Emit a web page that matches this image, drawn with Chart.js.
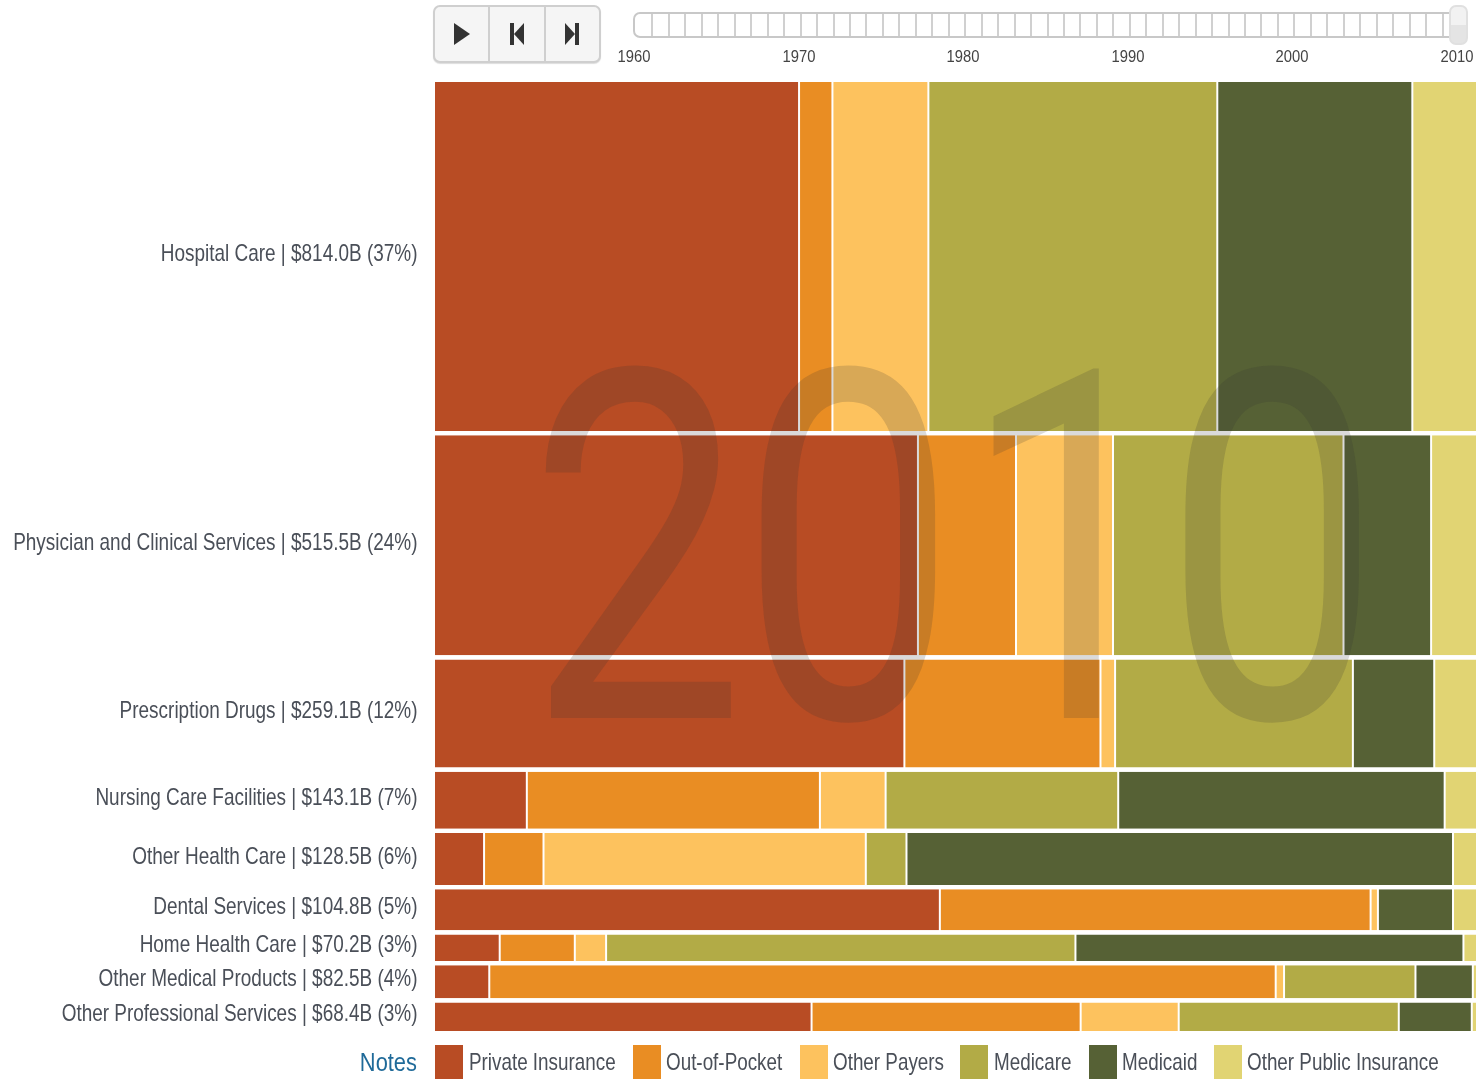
<!DOCTYPE html>
<html>
<head>
<meta charset="utf-8">
<script src="https://cdn.jsdelivr.net/npm/chart.js@4/dist/chart.umd.js"></script>
<style>
html,body{margin:0;padding:0;background:#fff;width:1476px;height:1079px;overflow:hidden;font-family:"Liberation Sans",sans-serif;color:#4a4f58}
#chart{position:absolute;left:0;top:0}
.buttons{position:absolute;left:433px;top:5px;width:164px;height:54px;border:2px solid #cfcfcf;border-radius:7px;background:#f5f5f5;display:flex;box-shadow:0 1px 1px #ddd}
.buttons div{flex:1;display:flex;align-items:center;justify-content:center;border-right:2px solid #cfcfcf}
.buttons div:last-child{border-right:none}
.slider{position:absolute;left:633px;top:12px;width:827px;height:22px;border:2px solid #c8c8c8;border-radius:7px;background:#fff}
.slider i{position:absolute;top:0;bottom:0;width:2px;background:#d0d0d0}
.thumb{position:absolute;left:1449px;top:5px;width:15px;height:36px;border:2px solid #e0e0e0;border-radius:7px;background:linear-gradient(#f2f2f2 50%,#e4e4e4 50%)}
.year{position:absolute;top:47px;width:60px;margin-left:-30px;text-align:center;font:17px/20px "Liberation Sans";color:#444;transform:scaleX(.87)}
.wm{position:absolute;left:527.5px;top:306px;font:489px/1 Roboto;letter-spacing:-6.6px;color:rgba(50,50,50,.18);transform:scaleX(.79);transform-origin:0 0;pointer-events:none;white-space:nowrap}
.wm span{position:relative;left:12px}
.notes{position:absolute;right:1059px;top:1046px;font:26px/32px "Liberation Sans";color:#1f6a99;transform:scaleX(.84);transform-origin:100% 0}
.sw{position:absolute;top:1045px;width:28px;height:34px}
.lt{position:absolute;top:1045px;font:24px/34px "Liberation Sans";color:#4a4f58;transform:scaleX(.785);transform-origin:0 0;white-space:nowrap}
</style>
</head>
<body>
<canvas id="chart" width="1477" height="1079"></canvas>
<div class="buttons">
  <div><svg width="16" height="22"><polygon points="0,0 16,11 0,22" fill="#333"/></svg></div>
  <div><svg width="14" height="22"><rect width="4" height="22" fill="#333"/><polygon points="14,0 14,22 4,11" fill="#333"/></svg></div>
  <div><svg width="14" height="22"><rect x="10" width="4" height="22" fill="#333"/><polygon points="0,0 0,22 10,11" fill="#333"/></svg></div>
</div>
<div class="slider" id="slider"></div>
<div class="thumb"></div>
<div id="years"></div>
<div class="wm">20<span>1</span>0</div>
<div class="notes">Notes</div>
<div id="legend"></div>
<script>
const rowLabels = ["Hospital Care | $814.0B (37%)","Physician and Clinical Services | $515.5B (24%)","Prescription Drugs | $259.1B (12%)","Nursing Care Facilities | $143.1B (7%)","Other Health Care | $128.5B (6%)","Dental Services | $104.8B (5%)","Home Health Care | $70.2B (3%)","Other Medical Products | $82.5B (4%)","Other Professional Services | $68.4B (3%)"];
const rowWeights = [349,220,108,57,52,41,26.5,33,28.5];
const rowGap = 4.25;
const seriesNames = ["Private Insurance","Out-of-Pocket","Other Payers","Medicare","Medicaid","Other Public Insurance"];
const seriesColors = ["#B84C24","#E98D23","#FDC25E","#B2AB46","#566135","#E1D473"];
const privateInsurance = [35.0,46.4,45.1,8.9,4.8,48.5,6.3,5.3,36.2];
const outOfPocket      = [3.2,9.4,18.8,28.1,5.7,41.3,7.2,75.4,25.8];
const otherPayers      = [9.2,9.3,1.4,6.3,30.9,0.7,3.0,0.8,9.4];
const medicare         = [27.7,22.1,22.8,22.3,3.9,0.0,45.0,12.6,21.1];
const medicaid         = [18.7,8.4,7.8,31.3,52.4,7.2,37.2,5.5,7.0];
const otherPublic      = [6.2,4.4,4.1,3.1,2.3,2.3,1.3,0.4,0.5];
const sliderYears = [1960,1970,1980,1990,2000,2010];
const seriesValues = [privateInsurance,outOfPocket,otherPayers,medicare,medicaid,otherPublic];

// Row bands on the linear y scale
const rowStart = [], rowEnd = [];
let cursor = 0;
rowWeights.forEach(w => { rowStart.push(cursor); rowEnd.push(cursor + w); cursor += w + rowGap; });
const yMax = cursor - rowGap;
const rowCenter = rowStart.map((s,i) => (s + rowEnd[i]) / 2);

class MekkoController extends Chart.BarController {
  _calculateBarIndexPixels(index) {
    const y = this._cachedMeta.iScale;
    const a = y.getPixelForValue(rowStart[index]);
    const b = y.getPixelForValue(rowEnd[index]);
    return {base: Math.min(a,b), head: Math.max(a,b), center: (a+b)/2, size: Math.abs(b-a)};
  }
}
MekkoController.id = 'mekko';
MekkoController.defaults = Chart.BarController.defaults;
MekkoController.overrides = Chart.BarController.overrides;
Chart.register(MekkoController);

const labelAnchor = 417.5, labelSqueeze = 0.79;
new Chart(document.getElementById('chart'), {
  type: 'mekko',
  data: {
    datasets: seriesNames.map((name,s) => ({
      label: name,
      data: seriesValues[s].map((v,i) => ({x: v, y: rowCenter[i]})),
      backgroundColor: seriesColors[s],
      borderColor: '#ffffff',
      borderWidth: {left: 1, right: 1, top: 0, bottom: 0},
      borderSkipped: false
    }))
  },
  options: {
    indexAxis: 'y',
    responsive: false,
    animation: false,
    layout: {padding: {top: 82, bottom: 48, left: 0, right: 0}},
    plugins: {legend: {display: false}, tooltip: {enabled: false}},
    scales: {
      x: {type: 'linear', stacked: true, min: 0, max: 100, display: false},
      y: {
        type: 'linear', stacked: true, reverse: true, min: 0, max: yMax, offset: false,
        grid: {display: false, drawTicks: false}, border: {display: false},
        afterBuildTicks: axis => { axis.ticks = rowCenter.map(v => ({value: v})); },
        afterFit: axis => {
          axis.width = 434;
          if (!axis._squeezed) {
            axis._squeezed = true;
            axis._computeLabelArea = () => undefined;
            const draw = axis.drawLabels.bind(axis);
            axis.drawLabels = area => {
              const c = axis.ctx;
              c.save();
              c.translate(labelAnchor, 0); c.scale(labelSqueeze, 1); c.translate(-labelAnchor, 0);
              draw(area);
              c.restore();
            };
          }
        },
        ticks: {
          autoSkip: false, padding: 16.5, labelOffset: -2, maxRotation: 0, minRotation: 0,
          color: '#4a4f58',
          font: {family: '"Liberation Sans"', size: 24},
          callback: (value, index) => rowLabels[index]
        }
      }
    }
  }
});

// Slider and legend
const slider = document.getElementById('slider');
const span = sliderYears[sliderYears.length-1] - sliderYears[0];
for (let k = 1; k < span; k++) {
  const t = document.createElement('i');
  t.style.left = (k * 823 / span) + 'px';
  slider.appendChild(t);
}
const years = document.getElementById('years');
sliderYears.forEach(yr => {
  const d = document.createElement('div');
  d.className = 'year';
  d.textContent = yr;
  d.style.left = (634 + (yr - sliderYears[0]) * 823 / span) + 'px';
  years.appendChild(d);
});
const swatchLefts = [435,633,800,960,1089,1214];
const textLefts = [469,666,833,994,1122,1247];
const legend = document.getElementById('legend');
seriesNames.forEach((n,i) => {
  const b = document.createElement('div');
  b.className = 'sw'; b.style.left = swatchLefts[i] + 'px'; b.style.background = seriesColors[i];
  const t = document.createElement('div');
  t.className = 'lt'; t.style.left = textLefts[i] + 'px'; t.textContent = n;
  legend.appendChild(b); legend.appendChild(t);
});
</script>
</body>
</html>
